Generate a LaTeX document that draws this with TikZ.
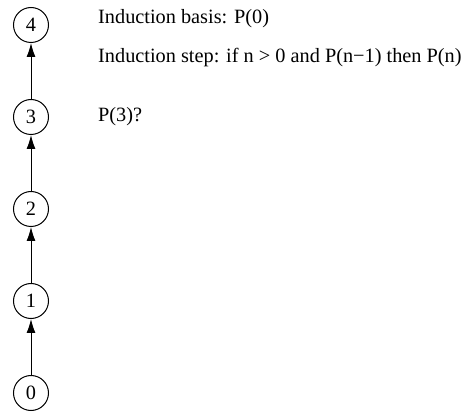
\documentclass[tikz,border=0pt]{standalone}
\usepackage{fontspec}
\setmainfont{Liberation Serif}
\usetikzlibrary{arrows.meta,positioning}

\begin{document}
\begin{tikzpicture}[x=1pt, y=1pt, node distance=92pt, >={Latex[length=14pt,width=9pt]},
  every node/.style={font=\fontsize{20.3}{24}\selectfont},
  state/.style={draw, circle, line width=1pt, minimum size=35pt, inner sep=0pt},
  note/.style={anchor=west, inner sep=0pt}]
\useasboundingbox (0,0) rectangle (469,-414);

\node[state] (n4) at (31,-25) {4};
\node[state, below of=n4] (n3) {3};
\node[state, below of=n3] (n2) {2};
\node[state, below of=n2] (n1) {1};
\node[state, below of=n1] (n0) {0};

\node[note] (basis) at (98,-19) {Induction basis: P(0)};
\node[note] (step) at (98,-58) {Induction step: if n > 0 and P(n−1) then P(n)};
\node[note] (query) at (98,-117) {P(3)?};

\draw[->, line width=1pt] (n0) -- (n1);
\draw[->, line width=1pt] (n1) -- (n2);
\draw[->, line width=1pt] (n2) -- (n3);
\draw[->, line width=1pt] (n3) -- (n4);
\end{tikzpicture}
\end{document}
